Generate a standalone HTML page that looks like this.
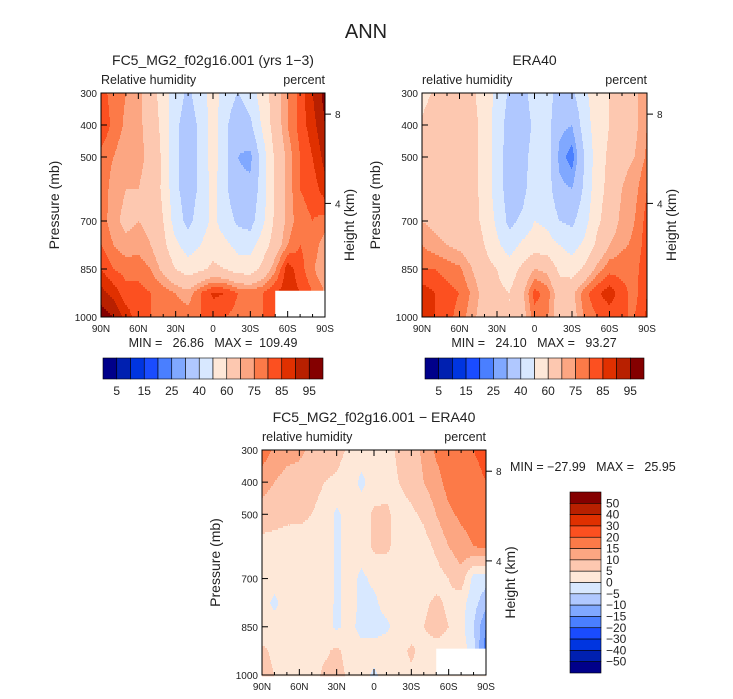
<!DOCTYPE html>
<html><head><meta charset="utf-8">
<style>
body{margin:0;background:#fff;width:733px;height:699px;overflow:hidden;font-family:"Liberation Sans",sans-serif;}
svg{display:block}
text{font-family:"Liberation Sans",sans-serif;fill:#222;white-space:pre}
</style></head>
<body>
<svg id="fig" width="733" height="699" xmlns="http://www.w3.org/2000/svg">
<text x="366" y="38" font-size="20" text-anchor="middle" fill="#444">ANN</text>
</svg>
<script>
// ---- data ----
const lats = [90,80,70,60,50,40,30,20,10,0,-10,-20,-30,-40,-50,-60,-70,-80,-90];
const levels = [300,400,500,600,700,775,850,925,1000];
const modelRH = [
[82,78,75,72,65,55,45,38,45,55,45,40,45,55,65,75,82,90,97],
[85,78,74,72,66,57,42,35,42,55,42,33,38,52,65,75,82,88,95],
[78,75,72,72,68,58,42,35,42,55,42,30,28,45,62,72,80,85,92],
[78,73,70,70,67,58,42,35,42,54,42,32,32,45,62,72,80,82,88],
[78,72,68,70,68,60,45,37,45,52,45,38,36,48,62,72,78,80,78],
[80,75,72,73,70,63,52,45,50,56,52,47,46,55,65,75,80,78,72],
[85,80,78,78,75,68,60,55,58,62,60,55,55,63,74,88,82,76,70],
[92,88,82,82,80,78,75,72,80,86,85,80,78,80,85,88,85,80,75],
[98,95,88,82,80,78,78,78,80,82,80,78,78,80,82,82,82,82,82]];
const eraRH = [
[55,62,62,63,62,55,48,38,36,45,45,35,38,48,55,60,65,68,75],
[62,68,66,65,63,57,45,36,34,42,44,32,30,45,55,60,65,68,75],
[63,68,66,65,63,57,45,35,35,45,45,28,22,40,55,62,68,70,76],
[65,68,66,65,63,57,45,35,36,47,45,32,30,42,56,63,70,73,80],
[70,68,66,65,63,58,48,37,42,50,48,40,38,46,58,65,72,75,82],
[75,72,70,68,65,60,52,45,52,55,54,50,46,52,62,70,74,76,83],
[80,80,78,76,70,64,60,55,62,70,68,58,55,62,72,78,78,78,84],
[88,85,82,80,74,67,62,60,68,82,78,65,68,78,84,88,82,78,85],
[88,85,82,78,72,66,62,60,66,78,76,65,66,76,80,82,80,80,86]];
const diffRH = [
[18,14,12,11,9,8,7,4,2,2,3,6,8,11,16,18,19,20,21],
[12,10,8,8,7,5,4,2,-1,2,3,5,7,10,13,17,18,19,20],
[8,7,6,6,5,3,-1,2,2,6,6,3,4,6,10,14,16,17,18],
[3,3,3,3,3,3,-1,2,2,6,6,3,2,3,6,10,13,15,16],
[2,2,2,2,3,3,-1,2,-1,1,2,2,2,2,3,5,8,-2,-3],
[2,-1,2,2,3,3,-1,2,-1,-1,2,2,2,4,6,4,2,-3,-8],
[2,2,2,2,2,2,-1,2,-2,-2,-1,2,2,5,7,5,2,-5,-15],
[6,4,3,2,3,4,6,3,2,2,3,3,6,3,3,3,3,-3,-18],
[7,5,3,2,3,6,7,4,2,-1,2,3,4,3,3,3,3,3,3]];
const rhLevels = [5,10,15,20,25,30,40,50,60,70,75,80,85,90,95];
const rhLabels = ["5","15","25","40","60","75","85","95"];
const diffLevels = [-50,-40,-30,-20,-15,-10,-5,0,5,10,15,20,30,40,50];
const diffLabels = ["50","40","30","20","15","10","5","0","\u22125","\u221210","\u221215","\u221220","\u221230","\u221240","\u221250"];
const palette = ["#00008a","#0020b0","#0035e0","#1a4cff","#4a7fff","#80a8ff","#b0c8ff","#d8e8ff","#fee8d8","#fdc8b0","#fca682","#fc7a48","#fc5020","#e03000","#b82000","#840000"];
const xTicks = [90,60,30,0,-30,-60,-90];
const xTickLabels = ["90N","60N","30N","0","30S","60S","90S"];
const pTicks = [300,400,500,700,850,1000];
const hTicks = [8,4];
const hTickY = {8:366,4:645};
const stats1 = ["26.86","109.49"], stats2 = ["24.10","93.27"], stats3 = ["-27.99","25.95"];
const missing = [{lat0:-50,lat1:-90,p0:918,p1:1000}];

const NS="http://www.w3.org/2000/svg";
const svg=document.getElementById('fig');
function mk(tag,attrs,parent){const e=document.createElementNS(NS,tag);for(const k in attrs)e.setAttribute(k,attrs[k]);(parent||svg).appendChild(e);return e;}
function txt(s,attrs,parent){const e=mk('text',attrs,parent);e.textContent=s;return e;}

function interp(grid,lat,p){
  let i=0;while(i<lats.length-2&&lat<lats[i+1])i++;
  let j=0;while(j<levels.length-2&&p>levels[j+1])j++;
  const tx=(lats[i]-lat)/(lats[i]-lats[i+1]);
  const ty=(p-levels[j])/(levels[j+1]-levels[j]);
  const a=grid[j][i],b=grid[j][i+1],c=grid[j+1][i],d=grid[j+1][i+1];
  return (a*(1-tx)+b*tx)*(1-ty)+(c*(1-tx)+d*tx)*ty;
}
function colorIdx(v,lv){let k=0;while(k<lv.length&&v>=lv[k])k++;return k;}

function panel(name,x0,y0,W,H,grid,lv,title,sub,showMiss){
  const g=mk('g',{},svg);
  
  
  const xs=lat=>x0+(90-lat)/180*W;
  const ys=p=>y0+(p-300)/700*H;
  const cells=mk('g',{},g);
  
  
  const step=2;
  for(let yy=0;yy<H;yy+=step){
    const p=300+700*(yy+step/2)/H;
    let runStart=0,runC=-1;
    for(let xx=0;xx<=W;xx++){
      let c=-2;
      if(xx<W){const lat=90-180*(xx+0.5)/W;c=colorIdx(interp(grid,lat,p),lv);}
      if(c!==runC){
        if(runC>=0){const r=mk('rect',{x:x0+runStart,y:y0+yy,width:xx-runStart+0.4,height:step+0.4,fill:palette[runC]},cells);
          
          }
        runStart=xx;runC=c;
      }
    }
  }
  if(showMiss){for(const m of missing){const r=mk('rect',{x:xs(m.lat0),y:ys(m.p0),width:xs(m.lat1)-xs(m.lat0),height:ys(m.p1)-ys(m.p0),fill:'#fff'},g);
    
    }}
  const fr=mk('rect',{x:x0,y:y0,width:W,height:H,fill:'none',stroke:'#000','stroke-width':1},g);
  
  
  for(let lat=90;lat>=-90;lat-=10){
    const X=xs(lat),L=(lat%30===0)?6:3;
    mk('line',{x1:X,y1:y0+H,x2:X,y2:y0+H-L,stroke:'#000'},g);
    mk('line',{x1:X,y1:y0,x2:X,y2:y0+L,stroke:'#000'},g);
  }
  xTicks.forEach((lat,i)=>{const t=txt(xTickLabels[i],{x:xs(lat),y:y0+H+15,'font-size':10,'text-anchor':'middle'},g);
    
    });
  pTicks.forEach(p=>{mk('line',{x1:x0,y1:ys(p),x2:x0+6,y2:ys(p),stroke:'#000'},g);
    const t=txt(String(p),{x:x0-4,y:ys(p)+4,'font-size':10,'text-anchor':'end'},g);
    
    });
  hTicks.forEach(h=>{const Y=ys(hTickY[h]);mk('line',{x1:x0+W,y1:Y,x2:x0+W+6,y2:Y,stroke:'#000'},g);
    const t=txt(String(h),{x:x0+W+10,y:Y+4,'font-size':10},g);
    
    });
  const yt=txt('Pressure (mb)',{x:0,y:0,'font-size':14,'text-anchor':'middle',transform:`translate(${x0-42},${y0+H/2}) rotate(-90)`,fill:'#444'},g);
  
  
  const ht=txt('Height (km)',{x:0,y:0,'font-size':14,'text-anchor':'middle',transform:`translate(${x0+W+29},${y0+H/2+20}) rotate(-90)`,fill:'#444'},g);
  
  
  const tt=txt(title,{x:x0+W/2,y:y0-28,'font-size':14,'text-anchor':'middle',fill:'#444'},g);
  
  
  const s1=txt(sub,{x:x0,y:y0-9,'font-size':12.5},g);
  
  
  const s2=txt('percent',{x:x0+W,y:y0-9,'font-size':12.5,'text-anchor':'end'},g);
  
  
}

panel('panel-model',101,93,224,224,modelRH,rhLevels,'FC5_MG2_f02g16.001 (yrs 1\u22123)','Relative humidity',true);
panel('panel-era40',422,93,225,224,eraRH,rhLevels,'ERA40','relative humidity',false);
panel('panel-diff',262,450,224,225,diffRH,diffLevels,'FC5_MG2_f02g16.001 \u2212 ERA40','relative humidity',true);

function stat(s,x,y,name){const t=txt(s,{x:x,y:y,'font-size':12.5,'text-anchor':'middle'});
  
  }
stat(`MIN =   ${stats1[0]}   MAX =  ${stats1[1]}`,213,347,'min-max-model');
stat(`MIN =   ${stats2[0]}   MAX =   ${stats2[1]}`,534,347,'min-max-era40');
const s3=txt(`MIN = \u2212${stats3[0].slice(1)}   MAX =   ${stats3[1]}`,{x:510,y:471,'font-size':12.5});



function hbar(name,x0,y0,W,H){
  const g=mk('g',{},svg);
  
  
  const bw=W/palette.length;
  palette.forEach((c,i)=>{const r=mk('rect',{x:x0+i*bw,y:y0,width:bw,height:H,fill:c,stroke:'#000','stroke-width':0.6},g);
    
    });
  rhLabels.forEach((l,i)=>{const t=txt(l,{x:x0+(2*i+1)*bw,y:y0+H+16,'font-size':12,'text-anchor':'middle'},g);
    
    });
}
hbar('colorbar-model',103,358,220,21);
hbar('colorbar-era40',425,358,219,21);

const vb=mk('g',{},svg);


const vbh=181/palette.length;
palette.slice().reverse().forEach((c,i)=>{const r=mk('rect',{x:570,y:492+i*vbh,width:31,height:vbh,fill:c,stroke:'#000','stroke-width':0.6},vb);
  
  });
diffLabels.forEach((l,i)=>{const t=txt(l,{x:606,y:492+(i+1)*vbh+4,'font-size':12},vb);
  
  });
</script>
</body></html>
